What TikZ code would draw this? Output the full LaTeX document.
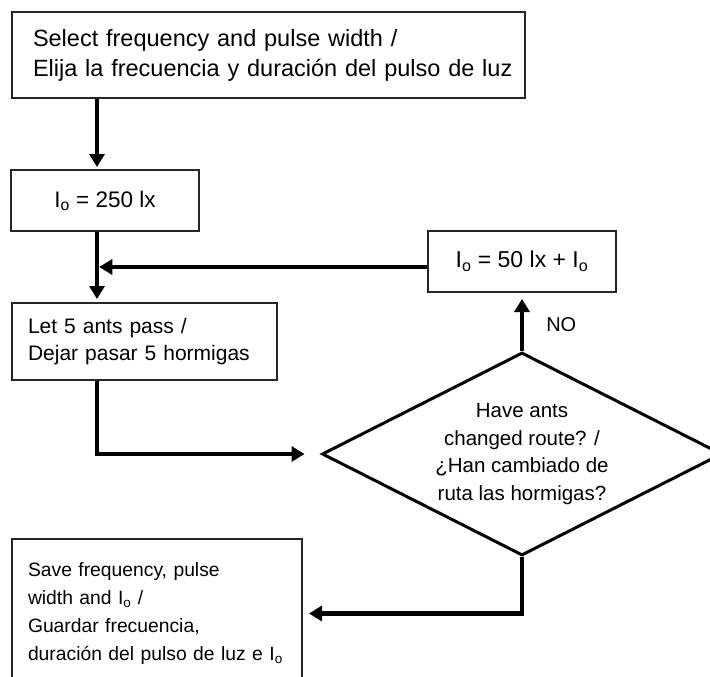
\documentclass[tikz,border=0pt]{standalone}
\usepackage{fontspec}
\setmainfont{Liberation Sans}
\usepackage{tikz}
\usetikzlibrary{arrows.meta,shapes.geometric,positioning}

\begin{document}
\begin{tikzpicture}[x=1pt,y=-1pt,
                    box/.style={draw=black!85,line width=2pt,inner sep=0pt,align=left},
                    flow/.style={line width=4.5pt,-{Triangle[length=13pt,width=15pt]}}]
                     \useasboundingbox (0,0) rectangle (710,677);
                     \coordinate (spine) at (97,0);
                     \coordinate (join) at (97,267);
                     \node[box,font=\fontsize{23.5}{29.5}\selectfont,minimum width=513pt,minimum height=86pt,text width=471pt] (sel) at (268.5,55.5)
                       {\mbox{Select frequency and pulse width /}\\\mbox{Elija la frecuencia y duración del pulso de luz}};
                     \node[box,font=\fontsize{22.5}{27}\selectfont,align=center,minimum width=188pt,minimum height=61pt] (val) at (105,200.5)
                       {I\textsubscript{o} = 250 lx};
                     \node[box,font=\fontsize{21}{27}\selectfont,minimum width=265pt,minimum height=77pt,text width=232pt] (let) at (144,341.5)
                       {\mbox{Let 5 ants pass /}\\\mbox{Dejar pasar 5 hormigas}};
                     \node[box,font=\fontsize{23}{27}\selectfont,align=center,minimum width=188pt,minimum height=61pt] (inc) at (522,261.5)
                       {I\textsubscript{o} = 50 lx + I\textsubscript{o}};
                     \node[draw,diamond,font=\fontsize{20.5}{27.5}\selectfont,line width=3pt,aspect=1.97,minimum width=400pt,minimum height=203pt,inner sep=0pt,align=center] (dec) at (522,454)
                       {Have ants\\changed route? /\\¿Han cambiado de\\ruta las hormigas?};
                     \node[box,font=\fontsize{19.3}{27.7}\selectfont,minimum width=290pt,minimum height=149pt,text width=258pt] (save) at (157,613.5)
                       {\mbox{Save frequency, pulse}\\\mbox{width and I\textsubscript{o} /}\\\mbox{Guardar frecuencia,}\\\mbox{duración del pulso de luz e I\textsubscript{o}}};
                     \draw[flow,shorten >=2pt] (sel.south -| spine) -- (val.north -| spine);
                     \draw[flow,shorten >=3pt] (val.south -| spine) -- (let.north -| spine);
                     \draw[flow,shorten >=2.25pt] (inc.west |- join) -- (join);
                     \draw[flow,shorten >=16pt] (let.south -| spine) |- (dec.west);
                     \draw[flow,shorten >=6pt] (dec.north) -- node[right=22pt,pos=0.45,inner sep=0pt,font=\fontsize{20}{24}\selectfont] (no) {NO} (inc.south);
                     \draw[flow,shorten >=6pt] (dec.south) |- (save.east);
                  \end{tikzpicture}
\end{document}
